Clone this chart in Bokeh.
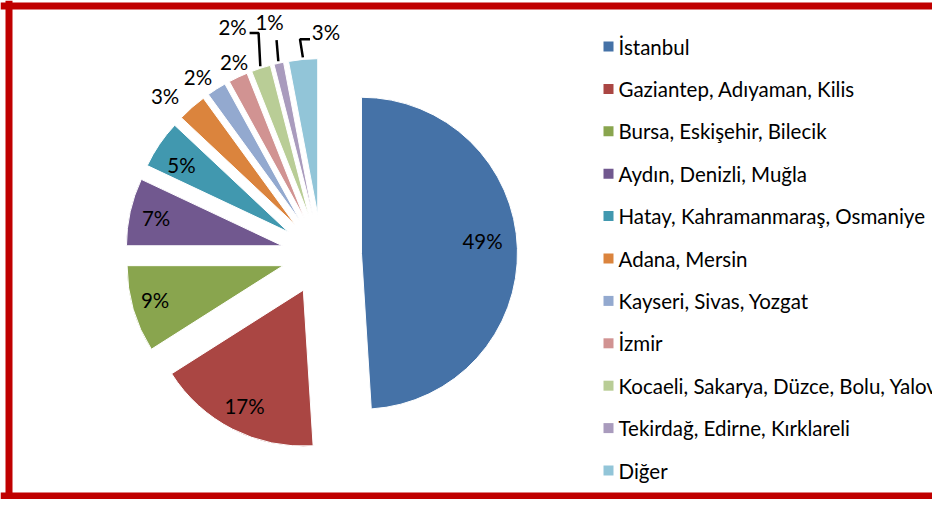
import math
from bokeh.plotting import figure
from bokeh.models import Range1d, ColumnDataSource, Span
from bokeh.core.properties import value
from bokeh.embed import file_html
from bokeh.resources import INLINE

regions = ["İstanbul", "Gaziantep, Adıyaman, Kilis", "Bursa, Eskişehir, Bilecik",
           "Aydın, Denizli, Muğla", "Hatay, Kahramanmaraş, Osmaniye", "Adana, Mersin",
           "Kayseri, Sivas, Yozgat", "İzmir", "Kocaeli, Sakarya, Düzce, Bolu, Yalova",
           "Tekirdağ, Edirne, Kırklareli", "Diğer"]
shares = [49, 17, 9, 7, 5, 3, 2, 2, 2, 1, 3]
colors = ["#4572A7", "#AA4643", "#89A54E", "#71588F", "#4198AF", "#DB843D",
          "#93A9CF", "#D19392", "#B9CD96", "#A99BBD", "#92C5D8"]

# layout (pixels in plot space)
W, H = 932, 499
CX, CY = 321, H - 254
R = 156
EXPLODE = 40
label_r = [0.78, 0.83, 0.85, 0.83, 0.81, 1.17, 1.13, 1.10, 1.31, 1.27, 1.17]
label_da = [4, 0, -1, 0, 2, 4, 3, -1, 4, 0, -8]
leader_pts = {8: [(26, -6), (17, -6)], 9: [(7, -18)], 10: [(-26, -7), (-16, -7)]}
FONT = "Lato"
FONT_SIZE = "20.5px"

total = float(sum(shares))
xs, ys, starts, ends, mids = [], [], [], [], []
cum = 0.0
for v in shares:
    a0 = cum / total
    a1 = (cum + v) / total
    cum += v
    s = math.radians(90 - a1 * 360)
    e = math.radians(90 - a0 * 360)
    m = (s + e) / 2
    xs.append(CX + EXPLODE * math.cos(m))
    ys.append(CY + EXPLODE * math.sin(m))
    starts.append(s)
    ends.append(e)
    mids.append(m)

src = ColumnDataSource(dict(x=xs, y=ys, start=starts, end=ends, color=colors, region=regions))

p = figure(width=W, height=H, output_backend="svg", toolbar_location=None,
           x_range=Range1d(0, W), y_range=Range1d(0, H), min_border=0,
           x_axis_location=None, y_axis_location=None)
p.grid.visible = False
p.outline_line_color = None
p.background_fill_color = "white"

p.wedge(x="x", y="y", radius=R, start_angle="start", end_angle="end",
        fill_color="color", line_color="white", line_width=1, source=src)

# percentage labels
lx, ly, lt = [], [], []
for i, v in enumerate(shares):
    a = mids[i] + math.radians(label_da[i])
    lx.append(xs[i] + label_r[i] * R * math.cos(a))
    ly.append(ys[i] + label_r[i] * R * math.sin(a))
    lt.append(f"{round(100 * v / total)}%")
p.text(x=lx, y=ly, text=lt, text_font=value(FONT), text_font_size=FONT_SIZE,
       text_color="black", text_align="center", text_baseline="middle")

# leader lines
for i, pts in leader_pts.items():
    sx = xs[i] + (R + 2) * math.cos(mids[i])
    sy = ys[i] + (R + 2) * math.sin(mids[i])
    px = [sx] + [lx[i] + dx for dx, dy in pts]
    py = [sy] + [ly[i] + dy for dx, dy in pts]
    p.line(px, py, line_color="black", line_width=2.5)

# legend
LEG_X, LEG_Y0, LEG_DY = 608, H - 46, 42.4
leg_y = [LEG_Y0 - k * LEG_DY for k in range(len(regions))]
p.rect(x=[LEG_X] * len(regions), y=leg_y, width=10, height=10,
       fill_color=colors, line_color=None)
p.text(x=[LEG_X + 10] * len(regions), y=leg_y, text=regions, text_font=value(FONT),
       text_font_size=FONT_SIZE, text_color="black", text_align="left", text_baseline="middle")

# red frame (top, left, bottom)
p.add_layout(Span(location=H - 5.5, dimension="width", line_color="#C00000", line_width=7))
p.add_layout(Span(location=8.5, dimension="height", line_color="#C00000", line_width=7))
p.add_layout(Span(location=3.5, dimension="width", line_color="#C00000", line_width=7))

open("out.html", "w").write(file_html(p, INLINE))
